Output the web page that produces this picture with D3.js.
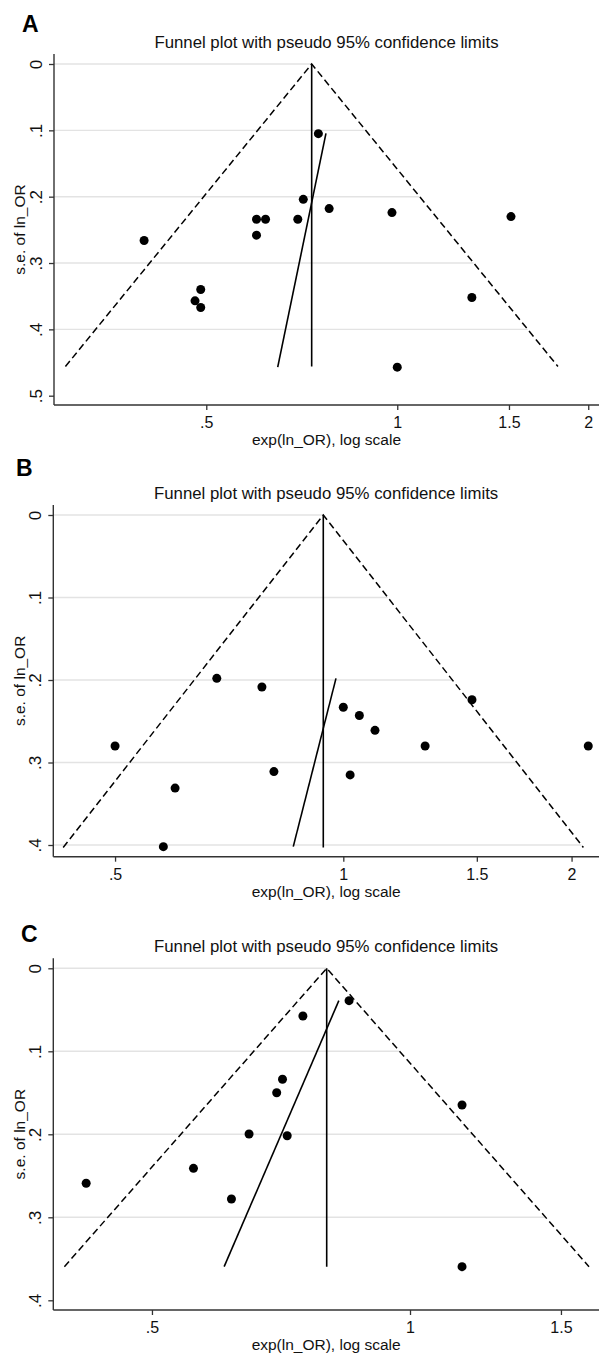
<!DOCTYPE html>
<html>
<head>
<meta charset="utf-8">
<script src="https://cdn.jsdelivr.net/npm/d3@7"></script>
<style>
  body { margin: 0; background: #fff; }
  svg { display: block; font-family: "Liberation Sans", Arial, sans-serif; }
</style>
</head>
<body>
<svg id="chart" width="599" height="1356"></svg>
<script>
// ---- data ----
const titleText = "Funnel plot with pseudo 95% confidence limits"
const xTitle = "exp(ln_OR), log scale"
const yTitle = "s.e. of ln_OR"

// panel A
const orA = [0.751, 0.711, 0.781, 0.981, 1.511, 0.600, 0.620, 0.697, 0.600, 0.399, 0.490, 0.480, 0.490, 1.311, 1.000]
const seA = [0.105, 0.204, 0.218, 0.224, 0.230, 0.234, 0.234, 0.234, 0.258, 0.266, 0.340, 0.357, 0.367, 0.352, 0.457]
const pooledA = 0.733
const maxSeA = 0.456
const eggerA = [[0.1045, 0.772], [0.457, 0.648]]   // [se, OR] ends
const xDomainA = [0.2877, 2.0646]
const xTicksA = [0.5, 1, 1.5, 2]
const yTicksA = [0, 0.1, 0.2, 0.3, 0.4, 0.5]

// panel B
const orB = [0.681, 0.781, 1.000, 1.050, 1.101, 1.478, 0.500, 1.282, 2.104, 0.600, 0.810, 1.021, 0.579]
const seB = [0.198, 0.2085, 0.233, 0.243, 0.261, 0.224, 0.280, 0.280, 0.280, 0.331, 0.311, 0.315, 0.402]
const pooledB = 0.941
const maxSeB = 0.403
const eggerB = [[0.198, 0.978], [0.402, 0.859]]
const xDomainB = [0.4145, 2.1606]
const xTicksB = [0.5, 1, 1.5, 2]
const yTicksB = [0, 0.1, 0.2, 0.3, 0.4]

// panel C
const orC = [0.750, 0.849, 0.710, 0.699, 1.150, 0.649, 0.719, 0.419, 0.559, 0.619, 1.150]
const seC = [0.0575, 0.039, 0.1337, 0.1499, 0.1647, 0.1996, 0.2017, 0.259, 0.241, 0.278, 0.3595]
const pooledC = 0.7995
const maxSeC = 0.3595
const eggerC = [[0.039, 0.826], [0.3595, 0.607]]
const xDomainC = [0.3836, 1.6525]
const xTicksC = [0.5, 1, 1.5]
const yTicksC = [0, 0.1, 0.2, 0.3, 0.4]

// layout of each panel (pixels)
const panels = [
  { letter: "A", or: orA, se: seA, pooled: pooledA, maxSe: maxSeA, egger: eggerA,
    xDomain: xDomainA, xTicks: xTicksA, yTicks: yTicksA, yMax: 0.5,
    left: 54, right: 597, axisTop: 54, y0: 64, yEnd: 395.7, bottom: 405,
    letterX: 22, letterY: 31.7 },
  { letter: "B", or: orB, se: seB, pooled: pooledB, maxSe: maxSeB, egger: eggerB,
    xDomain: xDomainB, xTicks: xTicksB, yTicks: yTicksB, yMax: 0.4,
    left: 53.3, right: 597, axisTop: 505, y0: 515, yEnd: 845, bottom: 856.7,
    letterX: 16, letterY: 476 },
  { letter: "C", or: orC, se: seC, pooled: pooledC, maxSe: maxSeC, egger: eggerC,
    xDomain: xDomainC, xTicks: xTicksC, yTicks: yTicksC, yMax: 0.4,
    left: 53.3, right: 597, axisTop: 958.3, y0: 968.3, yEnd: 1300.3, bottom: 1310,
    letterX: 21, letterY: 941.7 }
]

const svg = d3.select("#chart")
svg.append("rect").attr("width", 599).attr("height", 1356).attr("fill", "#fff")

// stata style labels: .5 instead of 0.5
let stataFmt = v => v === 0 ? "0" : String(v).replace(/^0\./, ".")

const drawPanel = (p) => {
  let g = svg.append("g")

  let x = d3.scaleLog().domain(p.xDomain).range([p.left, p.right])
  let y = d3.scaleLinear().domain([0, p.yMax]).range([p.y0, p.yEnd])

  // right/left pseudo confidence limit at a given se
  let limit = (se, sign) => Math.exp(Math.log(p.pooled) + sign * 1.96 * se)

  // gridlines, they stop at the right-hand limit line
  let grid = p.yTicks.filter(t => t <= p.maxSe + 1e-9)
  g.selectAll(".grid").data(grid).join("line")
    .attr("x1", p.left)
    .attr("x2", d => Math.min(x(limit(d, 1)), p.right))
    .attr("y1", d => y(d)).attr("y2", d => y(d))
    .attr("stroke", "#e3e3e3").attr("stroke-width", 1.4)

  // funnel (dashed)
  let funnel = [[p.maxSe, limit(p.maxSe, -1)], [0, p.pooled], [p.maxSe, limit(p.maxSe, 1)]]
  g.append("path")
    .attr("d", d3.line().x(d => x(d[1])).y(d => y(d[0]))(funnel))
    .attr("fill", "none").attr("stroke", "#000")
    .attr("stroke-width", 1.5).attr("stroke-dasharray", "7,3.8")

  // pooled estimate
  g.append("line")
    .attr("x1", x(p.pooled)).attr("x2", x(p.pooled))
    .attr("y1", y(0)).attr("y2", y(p.maxSe))
    .attr("stroke", "#000").attr("stroke-width", 1.6)

  // egger regression line
  g.append("path")
    .attr("d", d3.line().x(d => x(d[1])).y(d => y(d[0]))(p.egger))
    .attr("fill", "none").attr("stroke", "#000").attr("stroke-width", 1.6)

  // studies
  let pts = p.or.map((v, i) => [v, p.se[i]])
  g.selectAll(".dot").data(pts).join("circle")
    .attr("cx", d => x(d[0])).attr("cy", d => y(d[1]))
    .attr("r", 4.5).attr("fill", "#000")

  // axes lines
  g.append("line").attr("x1", p.left).attr("x2", p.left)
    .attr("y1", p.axisTop).attr("y2", p.bottom)
    .attr("stroke", "#333").attr("stroke-width", 1.4)
  g.append("line").attr("x1", p.left).attr("x2", p.right + 2)
    .attr("y1", p.bottom).attr("y2", p.bottom)
    .attr("stroke", "#333").attr("stroke-width", 1.4)

  let yAx = g.append("g").attr("transform", "translate(" + p.left + ",0)")
    .call(d3.axisLeft(y).tickValues(p.yTicks).tickFormat(stataFmt).tickSize(5).tickSizeOuter(0))
  yAx.select(".domain").remove()
  yAx.selectAll("line").attr("stroke", "#333").attr("stroke-width", 1.3)
  yAx.selectAll("text")
    .attr("x", null).attr("dy", null)
    .attr("transform", "translate(-12,0) rotate(-90)")
    .attr("text-anchor", "middle")
    .attr("fill", "#111").style("font-size", "17px")

  let xAx = g.append("g").attr("transform", "translate(0," + p.bottom + ")")
    .call(d3.axisBottom(x).tickValues(p.xTicks).tickFormat(stataFmt).tickSize(5).tickSizeOuter(0))
  xAx.select(".domain").remove()
  xAx.selectAll("line").attr("stroke", "#333").attr("stroke-width", 1.3)
  xAx.selectAll("text")
    .attr("y", 23).attr("dy", null)
    .attr("fill", "#111").style("font-size", "16px")

  let cx = (p.left + p.right) / 2 + 1

  // titles
  g.append("text").attr("x", cx).attr("y", p.axisTop - 6)
    .attr("text-anchor", "middle").style("font-size", "16.8px").attr("fill", "#111")
    .text(titleText)
  g.append("text").attr("x", cx).attr("y", p.bottom + 40)
    .attr("text-anchor", "middle").style("font-size", "15.5px").attr("fill", "#111")
    .text(xTitle)
  g.append("text")
    .attr("transform", "translate(25," + ((p.axisTop + p.bottom) / 2) + ") rotate(-90)")
    .attr("text-anchor", "middle").style("font-size", "15.5px").attr("fill", "#111")
    .text(yTitle)

  // panel letter
  g.append("text").attr("x", p.letterX).attr("y", p.letterY)
    .style("font-size", "23px").style("font-weight", "bold").attr("fill", "#000")
    .text(p.letter)
}

for (let p of panels) {
  drawPanel(p)
}
</script>
</body>
</html>
